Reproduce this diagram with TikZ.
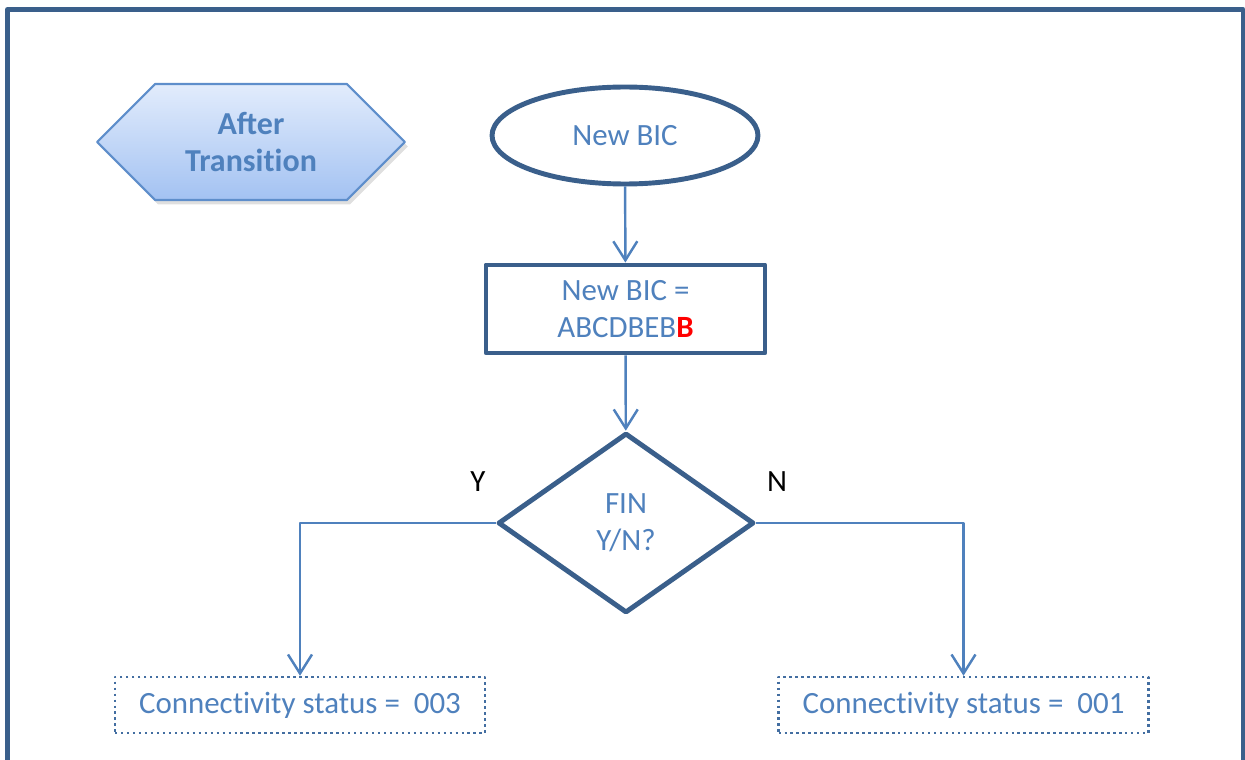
\documentclass[tikz,border=0pt]{standalone}
\usepackage{fontspec}
\setmainfont{Carlito}
\usetikzlibrary{arrows.meta, positioning, shapes, shadows}
\definecolor{frame_blue}{HTML}{3A5F8B}
\definecolor{text_blue}{HTML}{4F81BD}
\definecolor{line_blue}{HTML}{4F81BD}
\definecolor{hex_border}{HTML}{5E8ECB}
\definecolor{hex_top}{HTML}{E2ECFC}
\definecolor{hex_bottom}{HTML}{A3C2F2}
\tikzset{
  flow_text/.style={text=text_blue, font=\fontsize{17.6}{21}\selectfont, align=center},
  flow_shape/.style={flow_text, draw=frame_blue, line width=2.8pt, fill=white},
  status_box/.style={flow_text, draw=line_blue!85!black, dotted, line width=1.4pt,
    minimum width=7.4cm, minimum height=1.12cm},
  flow_arrow/.style={line_blue, line width=1.4pt,
    -{Straight Barb[length=0.38cm, width=0.48cm]}},
  branch_label/.style={font=\fontsize{17.6}{21}\selectfont}
}

\begin{document}
\begin{tikzpicture}[x=0.02cm, y=-0.02cm, line join=round]
	\useasboundingbox (0,0) rectangle (1245,760);
	\draw[frame_blue, line width=2.8pt] (7.5,770) -- (7.5,9.5) -- (1243,9.5) -- (1243,770);

	\node[signal, signal to=west and east, minimum width=6.16cm, minimum height=2.32cm,
	      draw=hex_border, line width=1.2pt, top color=hex_top, bottom color=hex_bottom,
	      drop shadow={shadow xshift=0.6mm, shadow yshift=-0.9mm, opacity=0.25},
	      text=text_blue, font=\bfseries\fontsize{18.2}{21.5}\selectfont, align=center]
	      (after) at (251,142) {After\\Transit\kern0pt ion};

	\node[flow_shape, ellipse, minimum width=5.32cm, minimum height=1.94cm] (start) at (625,135.5) {New BIC};
	\node[flow_shape, rectangle, minimum width=5.58cm, minimum height=1.76cm] (assign) at (625.5,309)
	      {New BIC =\\ABCDBEB\textcolor{red}{\textbf{B}}};
	\node[flow_shape, diamond, minimum width=5.12cm, minimum height=3.6cm] (fin) at (626,523) {FIN\\Y/N?};

	\node[status_box] (yes_box) at (300,705) {Connect\kern0pt ivity status =~ 003};
	\node[status_box] (no_box) at (963.5,705) {Connect\kern0pt ivity status =~ 001};

	\node[branch_label] (yes_label) at (478,482) {Y};
	\node[branch_label] (no_label) at (777,482) {N};

	\draw[flow_arrow] (start) -- (assign);
	\draw[flow_arrow] (assign) -- (fin);
	\draw[flow_arrow] (fin.west) -| (yes_box.north);
	\draw[flow_arrow] (fin.east) -| (no_box.north);
\end{tikzpicture}
\end{document}
